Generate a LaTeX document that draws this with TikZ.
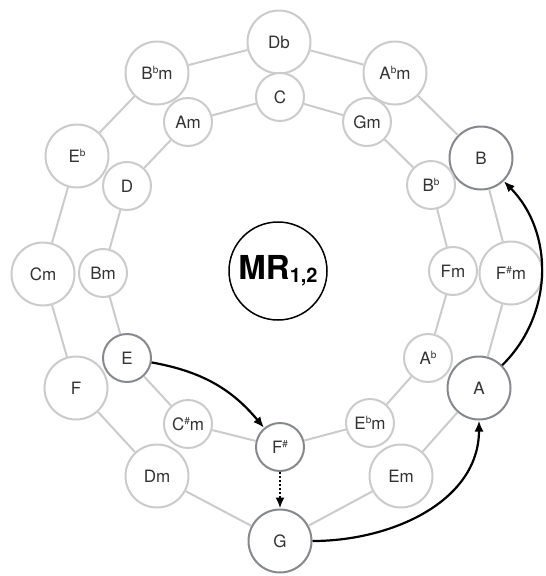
\documentclass[tikz,border=0pt]{standalone}
\usepackage{fontspec}
\setmainfont{TeX Gyre Heros}
\usetikzlibrary{arrows.meta}
\definecolor{lgrey}{HTML}{CBCBCB}
\definecolor{dgrey}{HTML}{85888D}
\definecolor{txt}{HTML}{333333}
\newcommand\myflat{\raisebox{0.62ex}{\fontsize{10}{10}\selectfont b}}
\newcommand\mysharp{\raisebox{0.62ex}{\fontsize{10}{10}\selectfont \#}}
\begin{document}
\begin{tikzpicture}[x=1pt,y=1pt,
  chord/.style={circle,draw=lgrey,line width=2pt,fill=white,text=txt,
    font=\fontsize{17}{17}\selectfont,inner sep=0pt},
  outer/.style={chord,minimum size=63pt},
  inner/.style={chord,minimum size=48pt},
  hot/.style={draw=dgrey},
  link/.style={draw=lgrey,line width=2pt},
  arr/.style={draw=black,line width=2.2pt,-{Latex[length=11pt,width=9pt]}}]
\useasboundingbox (0,0) rectangle (546,-576);
% outer ring
\node[outer] (Db) at (279,-42) {Db};
\node[outer] (Abm) at (395,-73) {A\myflat m};
\node[outer,hot] (B) at (481,-158) {B};
\node[outer] (Fsm) at (511,-273) {F\mysharp m};
\node[outer,hot] (A) at (479,-388) {A};
\node[outer] (Em) at (401,-476) {Em};
\node[outer,hot] (G) at (280,-541) {G};
\node[outer] (Dm) at (157,-476) {Dm};
\node[outer] (F) at (76,-388) {F};
\node[outer] (Cm) at (43,-274) {Cm};
\node[outer] (Eb) at (77,-156) {E\myflat};
\node[outer] (Bbm) at (157,-73) {B\myflat m};
% inner ring
\node[inner] (C) at (280,-97) {C};
\node[inner] (Gm) at (367,-122) {Gm};
\node[inner] (Bb) at (431,-185) {B\myflat};
\node[inner] (Fm) at (453,-271) {Fm};
\node[inner] (Ab) at (428,-358) {A\myflat};
\node[inner] (Ebm) at (370,-423) {E\myflat m};
\node[inner,hot] (Fs) at (280,-447) {F\mysharp};
\node[inner] (Csm) at (188,-424) {C\mysharp m};
\node[inner,hot] (E) at (127,-358) {E};
\node[inner] (Bm) at (103,-273) {Bm};
\node[inner] (D) at (127,-186) {D};
\node[inner] (Am) at (188,-122) {Am};
% center
\node[circle,draw=black,line width=1.5pt,minimum size=98pt,inner sep=0pt] (MR) at (278,-271)
  {\fontsize{33}{33}\selectfont\bfseries MR\raisebox{-3pt}{\fontsize{20}{20}\selectfont 1,2}};
% outer links
\foreach \a/\b in {Db/Abm,Abm/B,B/Fsm,Fsm/A,A/Em,Em/G,G/Dm,Dm/F,F/Cm,Cm/Eb,Eb/Bbm,Bbm/Db}
  \draw[link] (\a) -- (\b);
% inner links
\foreach \a/\b in {C/Gm,Gm/Bb,Bb/Fm,Fm/Ab,Ab/Ebm,Ebm/Fs,Fs/Csm,Csm/E,E/Bm,Bm/D,D/Am,Am/C}
  \draw[link] (\a) -- (\b);
% arrows
\draw[arr] (E) to[bend left=20] (Fs);
\draw[arr,dash pattern=on 2pt off 2pt] (Fs) -- (G);
\draw[arr] (G.east) to[out=0,in=-90] (A);
\draw[arr] (A) to[bend right=45] (B);
\end{tikzpicture}
\end{document}
